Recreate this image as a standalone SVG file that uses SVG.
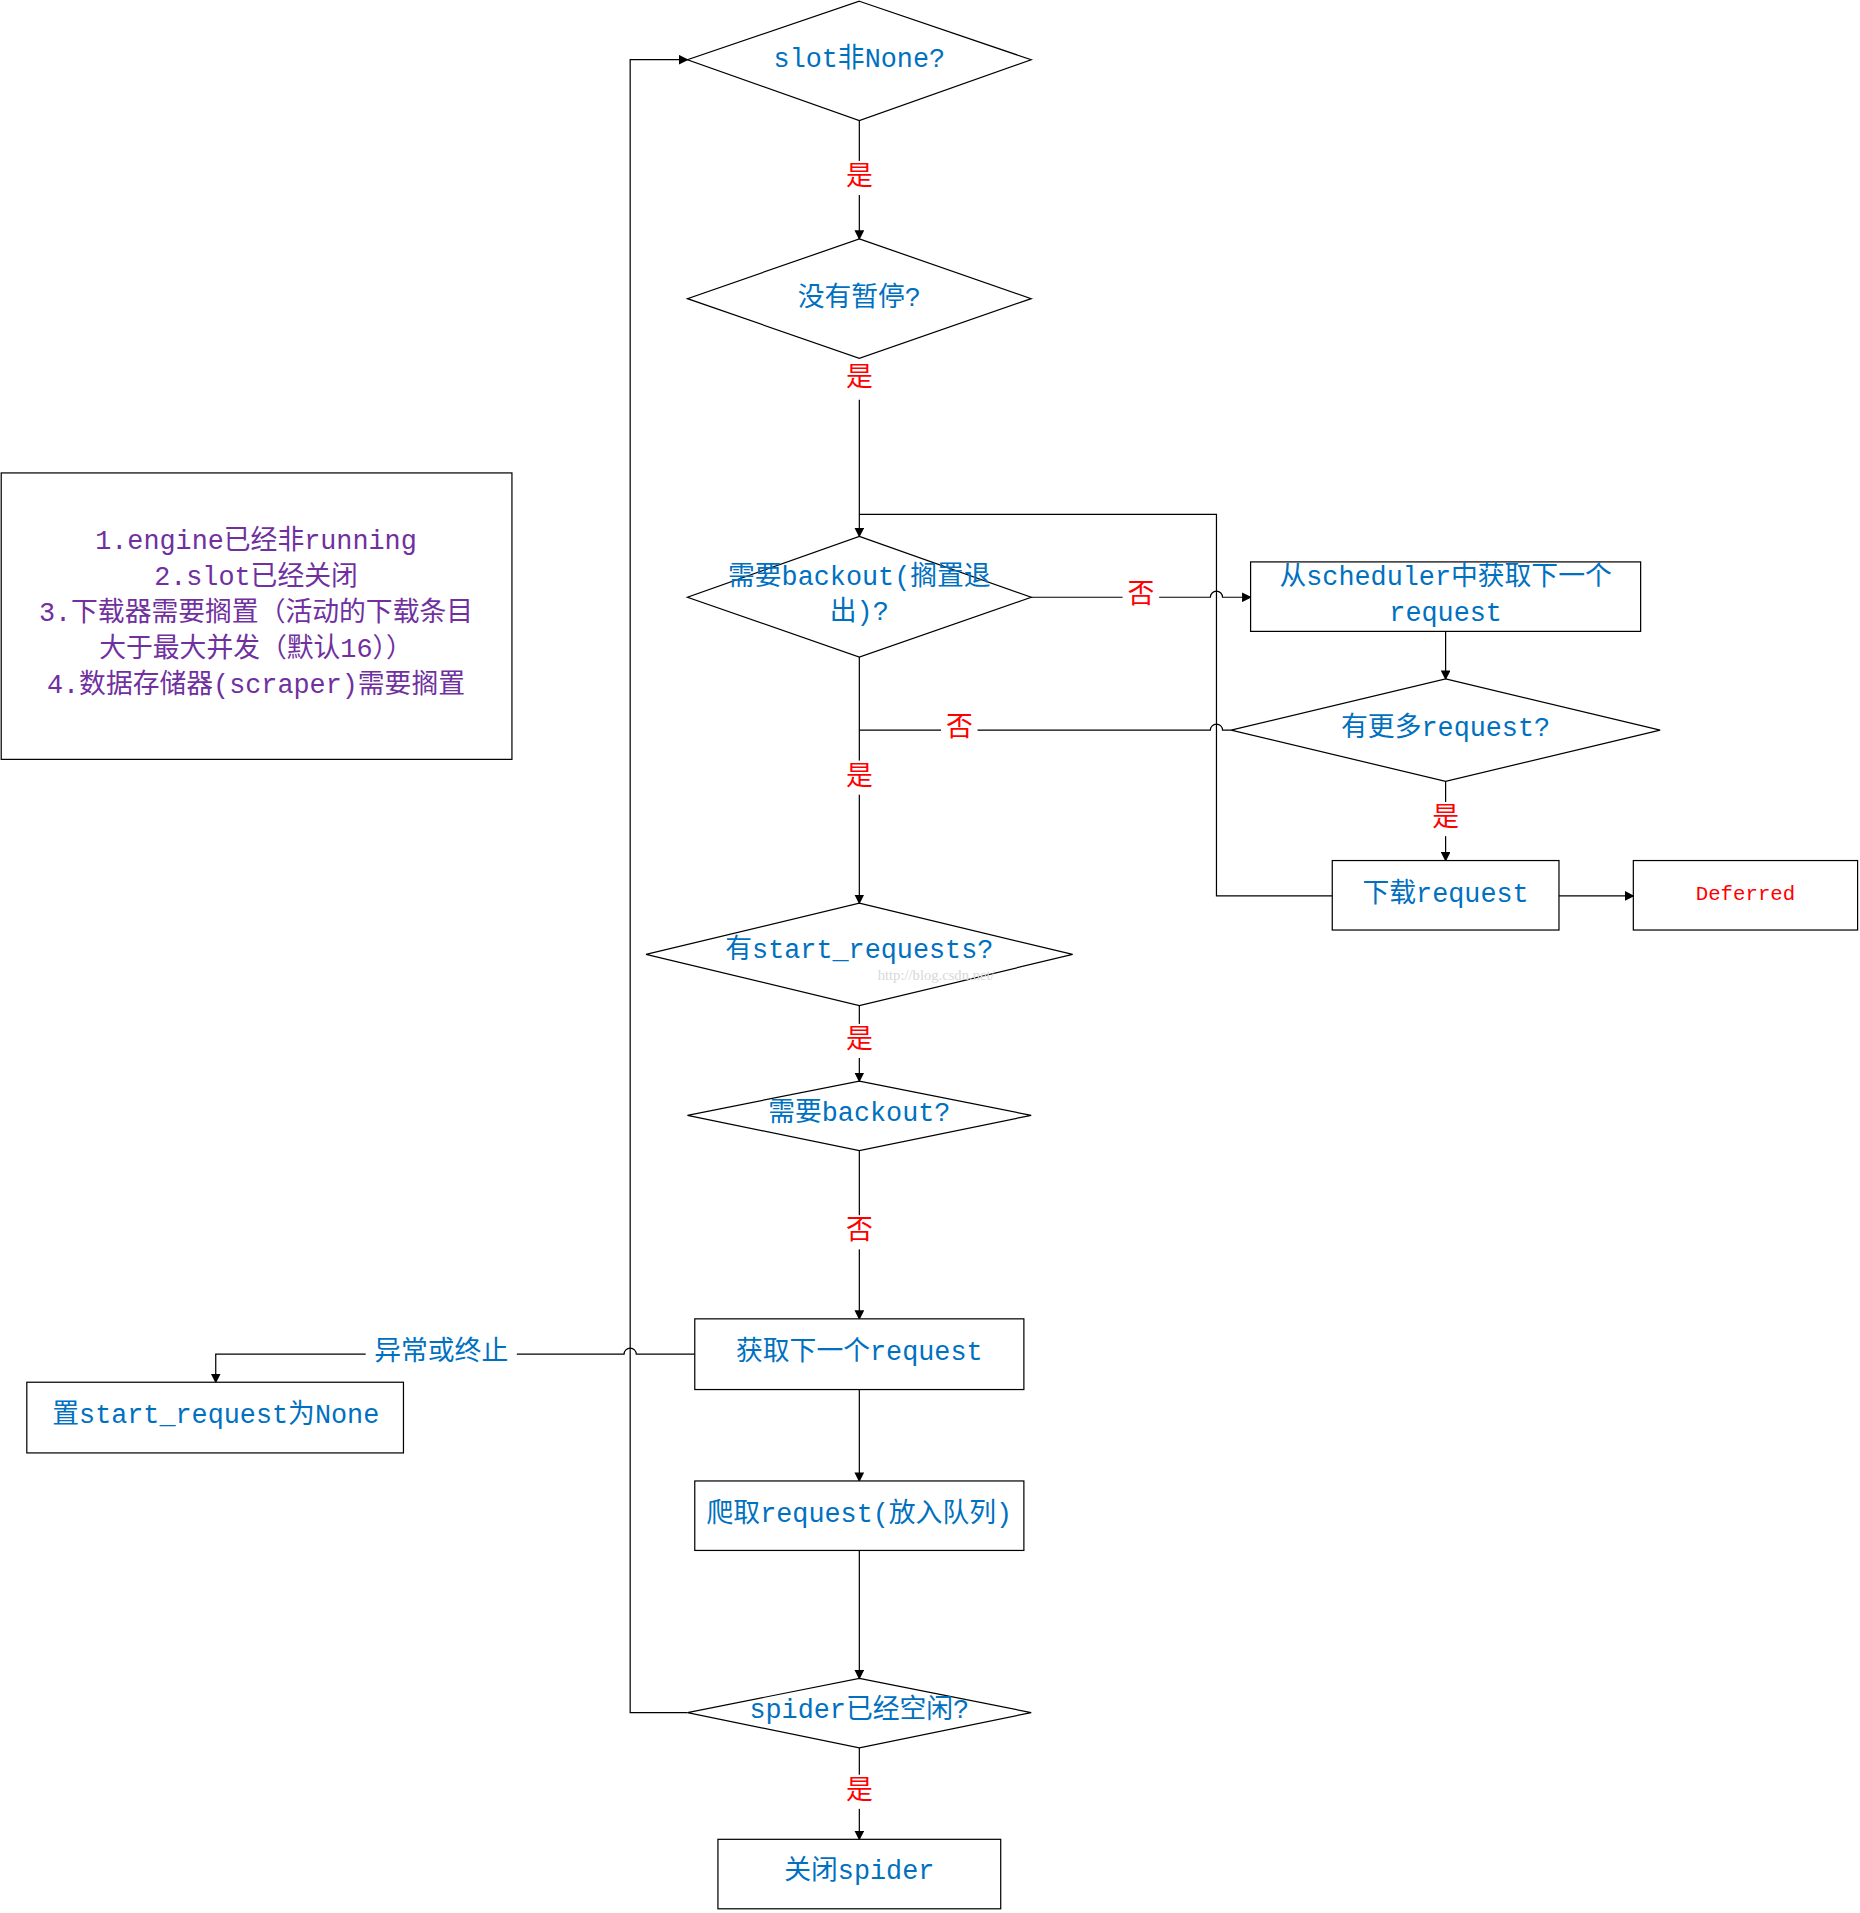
<svg xmlns="http://www.w3.org/2000/svg" width="1860" height="1913" viewBox="0 0 1860 1913">
<style>
.s{fill:#fff;stroke:#000;stroke-width:1}
.c{fill:none;stroke:#000;stroke-width:1}
text{font-family:"Liberation Mono","Noto Sans CJK SC",monospace;text-anchor:middle;dominant-baseline:central}
.b{fill:#0070C0;font-size:22px}
.r{fill:#FF0000;font-size:22px}
.p{fill:#7030A0;font-size:22px}
.l{fill:#fff;stroke:none}
</style>
<defs><marker id="a" markerWidth="8" markerHeight="8" refX="7" refY="4" orient="auto" markerUnits="userSpaceOnUse"><path d="M0,0 L8,4 L0,8z" fill="#000"/></marker></defs>
<rect width="1860" height="1913" fill="#fff"/>
<g transform="scale(1.2189)">
<g id="connectors">
<path class="c" d="M705,99 V196" marker-end="url(#a)"/>
<path class="c" d="M705,328 V440" marker-end="url(#a)"/>
<path class="c" d="M705,422 H998 V735 H1093"/>
<path class="c" d="M846,490 H993 a5,5 0 0 1 10,0 H1026" marker-end="url(#a)"/>
<path class="c" d="M1186,518 V557" marker-end="url(#a)"/>
<path class="c" d="M1010,599 H1003 a5,5 0 0 0 -10,0 H705"/>
<path class="c" d="M1186,641 V706" marker-end="url(#a)"/>
<path class="c" d="M1279,735 H1340" marker-end="url(#a)"/>
<path class="c" d="M705,539 V741" marker-end="url(#a)"/>
<path class="c" d="M705,825 V887" marker-end="url(#a)"/>
<path class="c" d="M705,944 V1082" marker-end="url(#a)"/>
<path class="c" d="M570,1111 H522 a5,5 0 0 0 -10,0 H177 V1134" marker-end="url(#a)"/>
<path class="c" d="M705,1140 V1215" marker-end="url(#a)"/>
<path class="c" d="M705,1272 V1377" marker-end="url(#a)"/>
<path class="c" d="M564,1405 H517 V49 H564" marker-end="url(#a)"/>
<path class="c" d="M705,1434 V1509" marker-end="url(#a)"/>
<rect class="l" x="690" y="132" width="30" height="28"/><text class="r" x="705" y="146">是</text>
<rect class="l" x="690" y="297" width="30" height="28"/><text class="r" x="705" y="311">是</text>
<rect class="l" x="921" y="475" width="30" height="28"/><text class="r" x="936" y="489">否</text>
<rect class="l" x="772" y="585" width="30" height="28"/><text class="r" x="787" y="598">否</text>
<rect class="l" x="1171" y="658" width="30" height="28"/><text class="r" x="1186" y="672">是</text>
<rect class="l" x="690" y="624" width="30" height="28"/><text class="r" x="705" y="638">是</text>
<rect class="l" x="690" y="840" width="30" height="28"/><text class="r" x="705" y="854">是</text>
<rect class="l" x="690" y="997" width="30" height="28"/><text class="r" x="705" y="1011">否</text>
<rect class="l" x="300" y="1097" width="124" height="28"/><text class="b" x="362" y="1110">异常或终止</text>
<rect class="l" x="690" y="1456" width="30" height="28"/><text class="r" x="705" y="1470">是</text>
</g>
<g id="n1"><path class="s" d="M705,1 L846,49 L705,99 L564,49z"/><text class="b" x="705" y="49">slot非None?</text></g>
<g id="n2"><path class="s" d="M705,196 L846,245 L705,294 L564,245z"/><text class="b" x="705" y="245">没有暂停?</text></g>
<g id="n3"><path class="s" d="M705,440 L846,490 L705,539 L564,490z"/><text class="b" x="705" y="474">需要backout(搁置退</text><text class="b" x="705" y="503">出)?</text></g>
<g id="n4"><rect class="s" x="1026" y="461" width="320" height="57"/><text class="b" x="1186" y="474">从scheduler中获取下一个</text><text class="b" x="1186" y="504">request</text></g>
<g id="n5"><path class="s" d="M1186,557 L1362,599 L1186,641 L1010,599z"/><text class="b" x="1186" y="598">有更多request?</text></g>
<g id="n6"><rect class="s" x="1093" y="706" width="186" height="57"/><text class="b" x="1186" y="734">下载request</text></g>
<g id="n7"><rect class="s" x="1340" y="706" width="184" height="57"/><text x="1432" y="734" style="fill:#FF0000;font-size:17px">Deferred</text></g>
<g id="n8"><path class="s" d="M705,741 L880,783 L705,825 L530,783z"/><text class="b" x="705" y="780">有start_requests?</text><text x="768" y="800" style="fill:#d8d8d8;font-size:12px;font-family:'Liberation Serif',serif">http://blog.csdn.net/</text></g>
<g id="n9"><path class="s" d="M705,887 L846,915 L705,944 L564,915z"/><text class="b" x="705" y="914">需要backout?</text></g>
<g id="n10"><rect class="s" x="570" y="1082" width="270" height="58"/><text class="b" x="705" y="1110">获取下一个request</text></g>
<g id="n11"><rect class="s" x="22" y="1134" width="309" height="58"/><text class="b" x="177" y="1162">置start_request为None</text></g>
<g id="n12"><rect class="s" x="570" y="1215" width="270" height="57"/><text class="b" x="705" y="1243">爬取request(放入队列)</text></g>
<g id="n13"><path class="s" d="M705,1377 L846,1405 L705,1434 L564,1405z"/><text class="b" x="705" y="1404">spider已经空闲?</text></g>
<g id="n14"><rect class="s" x="589" y="1509" width="232" height="57"/><text class="b" x="705" y="1536">关闭spider</text></g>
<g id="note"><rect class="s" x="1" y="388" width="419" height="235"/>
<text class="p" x="210" y="445">1.engine已经非running</text>
<text class="p" x="210" y="474">2.slot已经关闭</text>
<text class="p" x="210" y="504">3.下载器需要搁置（活动的下载条目</text>
<text class="p" x="210" y="533">大于最大并发（默认16））</text>
<text class="p" x="210" y="563">4.数据存储器(scraper)需要搁置</text></g>
</g>
</svg>
